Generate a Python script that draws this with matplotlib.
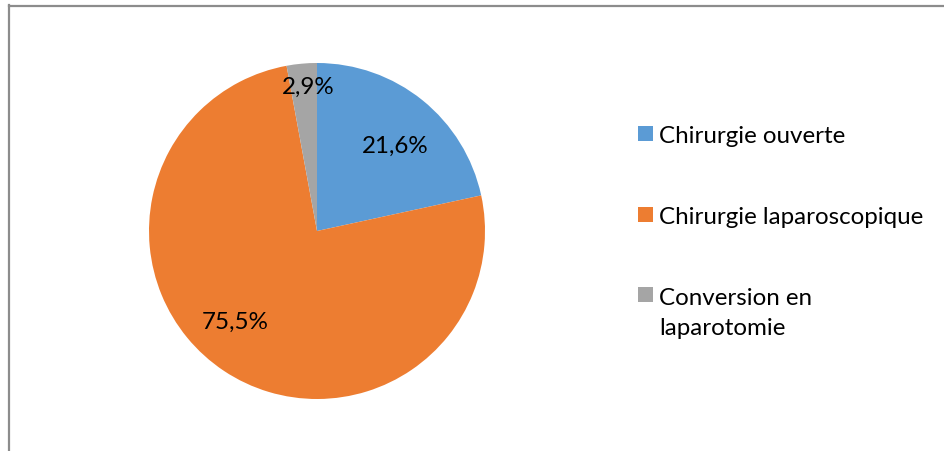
import matplotlib
matplotlib.use("Agg")
import matplotlib.pyplot as plt
from matplotlib.lines import Line2D
from matplotlib.patches import Rectangle

plt.rcParams['font.family'] = ['Lato', 'DejaVu Sans']

categories = ["Chirurgie ouverte", "Chirurgie laparoscopique", "Conversion en\nlaparotomie"]
values = [21.6, 75.5, 2.9]
colors = ["#5B9BD5", "#ED7D31", "#A5A5A5"]

# where each percentage label sits (pie units: centre x, baseline y)
label_pos = [(0.467, 0.470), (-0.485, -0.577), (-0.054, 0.821)]

W, H = 944, 452
FS = 17.4
fig = plt.figure(figsize=(W / 100, H / 100), dpi=100)
fig.patch.set_facecolor("white")

# frame: left and top edges
fig.add_artist(Line2D([8.5 / W, 8.5 / W], [0, 1 - 6 / H], color="#8c8c8c", lw=1.6,
                      transform=fig.transFigure))
fig.add_artist(Line2D([8.5 / W, 1], [1 - 6.5 / H, 1 - 6.5 / H], color="#8c8c8c", lw=1.6,
                      transform=fig.transFigure))

# pie area
cx, cy, r = 317, 232, 168
ax = fig.add_axes([(cx - r) / W, (H - cy - r) / H, 2 * r / W, 2 * r / H])
wedges, texts, autotexts = ax.pie(
    values, colors=colors, startangle=90, counterclock=False,
    autopct=lambda p: f"{p:.1f}%".replace(".", ","),
    textprops=dict(fontsize=FS, color="black"),
    wedgeprops=dict(linewidth=0))
for t, pos in zip(autotexts, label_pos):
    t.set_position(pos)
    t.set_verticalalignment("baseline")
ax.set_xlim(-1, 1)
ax.set_ylim(-1, 1)
ax.set_aspect("equal")
ax.axis("off")

# legend
sq = 15
lx, tx = 638, 659
rows = [(127, 143), (208, 224), (288, 305)]
for (top, base), lab, col in zip(rows, categories, colors):
    fig.add_artist(Rectangle((lx / W, 1 - (top + sq) / H), sq / W, sq / H,
                             facecolor=col, edgecolor="none", transform=fig.transFigure))
    for i, line in enumerate(lab.split("\n")):
        fig.text(tx / W, 1 - (base + 30 * i) / H, line, fontsize=FS,
                 va="baseline", ha="left")

fig.savefig("out.png", dpi=100, facecolor="white")
